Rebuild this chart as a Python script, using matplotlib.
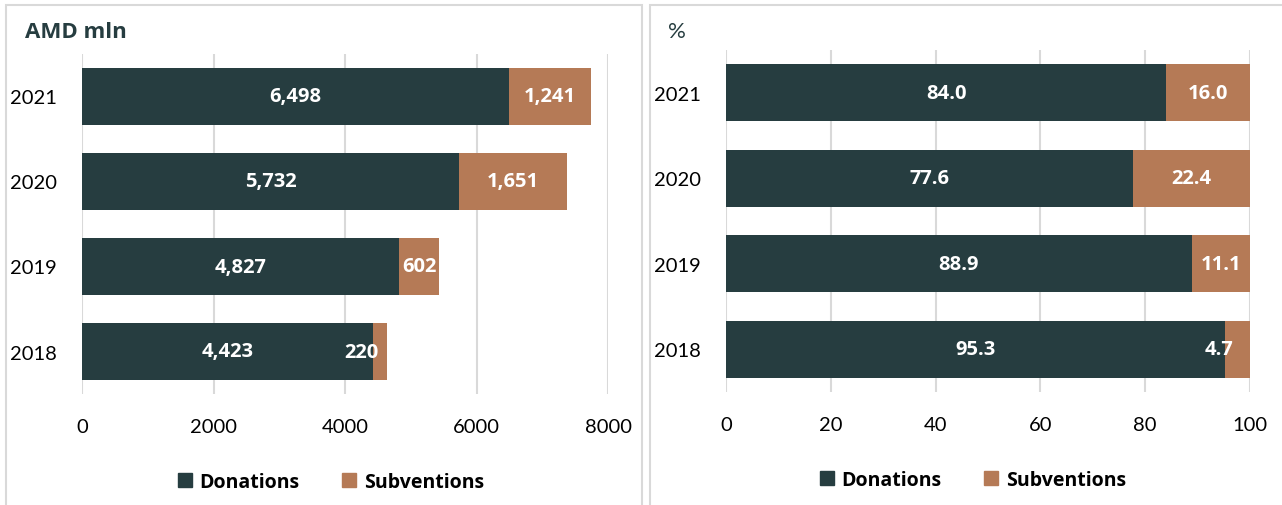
import matplotlib.pyplot as plt
from matplotlib.patches import Rectangle, Patch

plt.rcParams['font.family'] = ['Lato', 'DejaVu Sans']
bold_family = ['Open Sans', 'DejaVu Sans']

years = ['2018', '2019', '2020', '2021']
donations_amd = [4423, 4827, 5732, 6498]
subventions_amd = [220, 602, 1651, 1241]
donations_pct = [95.3, 88.9, 77.6, 84.0]
subventions_pct = [4.7, 11.1, 22.4, 16.0]

dark = '#263D40'
copper = '#B57A56'
grid_col = '#D9D9D9'

fig = plt.figure(figsize=(12.82, 5.06), dpi=100)

# panel frames
for x0, w in [(6, 636), (650, 640)]:
    fig.patches.append(Rectangle((x0 / 1282, -0.02), w / 1282, 1 - 6 / 506 + 0.02,
                                 transform=fig.transFigure, fill=False,
                                 edgecolor=grid_col, linewidth=1.5))


def draw_panel(ax, don, sub, xmax, step, fmt):
    y = range(len(years))
    ax.barh(y, don, height=0.67, color=dark, zorder=3)
    ax.barh(y, sub, left=don, height=0.67, color=copper, zorder=3)
    ax.set_xlim(0, xmax)
    ax.set_ylim(-0.5, len(years) - 0.5)
    ax.set_xticks(range(0, xmax + 1, step))
    ax.set_yticks(list(y))
    ax.set_yticklabels(years)
    for s in ax.spines.values():
        s.set_visible(False)
    ax.grid(axis='x', color=grid_col, linewidth=1.5, zorder=0)
    ax.tick_params(axis='x', length=0, pad=17, labelsize=14.5)
    ax.tick_params(axis='y', length=0, pad=18, labelsize=14.5)
    lab = dict(color='white', fontsize=14.5, fontweight='bold', family=bold_family,
               va='center', zorder=4)
    for i, (d, s) in enumerate(zip(don, sub)):
        ax.text(d / 2, i, fmt(d), ha='center', **lab)
        if s / xmax > 0.05:
            ax.text(d + s / 2, i, fmt(s), ha='center', **lab)
        else:
            # narrow segment: label spills back over the dark bar
            ax.annotate(fmt(s), (d + s, i), xytext=(-6 if xmax > 1000 else -12, 0),
                        textcoords='offset points', ha='right', **lab)


ax1 = fig.add_axes([82 / 1282, 1 - 395 / 506, 526 / 1282, 340 / 506])
draw_panel(ax1, donations_amd, subventions_amd, 8000, 2000, lambda v: f'{v:,}')

ax2 = fig.add_axes([726 / 1282, 1 - 393 / 506, 524 / 1282, 342 / 506])
draw_panel(ax2, donations_pct, subventions_pct, 100, 20, lambda v: f'{v:.1f}')

fig.text(25 / 1282, 1 - 32 / 506, 'AMD mln', fontsize=16, fontweight='bold',
         family=bold_family, color=dark, va='center', ha='left')
fig.text(668 / 1282, 1 - 32 / 506, '%', fontsize=16, color=dark,
         va='center', ha='left')

handles = [Patch(color=dark, label='Donations'), Patch(color=copper, label='Subventions')]
for cx, cy in [(331, 483), (973, 481)]:
    fig.legend(handles=handles, loc='center', bbox_to_anchor=(cx / 1282, 1 - cy / 506),
               ncol=2, frameon=False,
               prop={'size': 14, 'weight': 'bold', 'family': bold_family},
               handlelength=0.7, handleheight=0.7, handletextpad=0.4,
               columnspacing=2.2)

fig.savefig('out.png', dpi=100)
